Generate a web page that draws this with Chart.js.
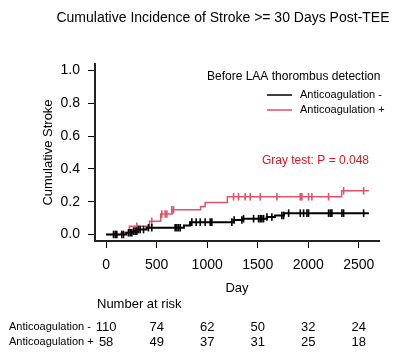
<!DOCTYPE html>
<html>
<head>
<meta charset="utf-8">
<script src="https://cdn.jsdelivr.net/npm/chart.js@4/dist/chart.umd.min.js"></script>
<style>
  html, body { margin: 0; padding: 0; background: #fff; }
  #wrap { width: 417px; height: 360px; }
</style>
</head>
<body>
<div id="wrap"><canvas id="cif" width="417" height="360"></canvas></div>
<script>
/* cumulative incidence of stroke, two groups, with censor marks and risk table */

const FONT = '"Liberation Sans", Arial, sans-serif';
const RED = '#DF536B';

// step curves: day of each jump and value after it
const negDays = [0, 200, 270, 320, 400, 770, 830, 1260, 1345, 1590, 1670, 1760, 2600];
const negRisk = [0, 0.01, 0.02, 0.03, 0.041, 0.055, 0.075, 0.088, 0.096, 0.106, 0.116, 0.13, 0.13];
const posDays = [0, 150, 230, 430, 540, 650, 935, 980, 1200, 2330, 2600];
const posRisk = [0, 0.012, 0.05, 0.08, 0.125, 0.15, 0.17, 0.195, 0.23, 0.266, 0.266];

// censored observations (days)
const negCensor = [73, 90, 106, 155, 172, 221, 238, 254, 271, 287, 304, 320, 337, 370, 419, 452,
  683, 700, 716, 733, 848, 891, 931, 980, 1030, 1046, 1244, 1267, 1343, 1360, 1459, 1508, 1525,
  1541, 1558, 1591, 1640, 1739, 1756, 1806, 1921, 1954, 1987, 2003, 2201, 2218, 2234, 2333, 2350, 2548];
const posCensor = [304, 452, 551, 584, 601, 650, 667, 1261, 1310, 1376, 1426, 1525, 1690, 1921,
  1937, 2003, 2036, 2201, 2350, 2548];

const xTicks = [0, 500, 1000, 1500, 2000, 2500];
const yTicks = [0, 0.2, 0.4, 0.6, 0.8, 1.0];
const groups = ['Anticoagulation -', 'Anticoagulation +'];
const riskNeg = [110, 74, 62, 50, 32, 24];
const riskPos = [58, 49, 37, 31, 25, 18];

function pts(days, vals) {
  return days.map((d, i) => ({ x: d, y: vals[i] }));
}

// value of a step curve at day t
function stepAt(days, vals, t) {
  let v = vals[0];
  days.forEach((d, i) => { if (d <= t) v = vals[i]; });
  return v;
}

function censorPts(list, days, vals) {
  return list.map((t) => ({ x: t, y: stepAt(days, vals, t) }));
}

const textPlugin = {
  id: 'texts',
  afterDraw(chart) {
    const ctx = chart.ctx;
    const xs = chart.scales.x;
    const area = chart.chartArea;
    ctx.save();
    ctx.fillStyle = '#000';
    ctx.textBaseline = 'middle';

    ctx.font = '14px ' + FONT;
    ctx.textAlign = 'center';
    ctx.fillText('Cumulative Incidence of Stroke >= 30 Days Post-TEE', 223, 18);

    // axis titles
    ctx.font = '13px ' + FONT;
    ctx.fillText('Day', (area.left + area.right) / 2, 288);
    ctx.save();
    ctx.translate(48, (area.top + area.bottom) / 2);
    ctx.rotate(-Math.PI / 2);
    ctx.fillText('Cumulative Stroke', 0, 0);
    ctx.restore();

    // legend
    ctx.font = '12px ' + FONT;
    ctx.textAlign = 'left';
    ctx.fillText('Before LAA thorombus detection', 207, 77);
    ctx.font = '11px ' + FONT;
    [['#000', 95], [RED, 110]].forEach(([c, y], i) => {
      ctx.strokeStyle = c;
      ctx.lineWidth = 1.5;
      ctx.beginPath(); ctx.moveTo(267, y); ctx.lineTo(292, y); ctx.stroke();
      ctx.fillText(groups[i], 300, y);
    });

    ctx.font = '12px ' + FONT;
    ctx.textAlign = 'right';
    ctx.fillStyle = '#E8101C';
    ctx.fillText('Gray test: P = 0.048', 369, 161);

    // number at risk
    ctx.fillStyle = '#000';
    ctx.textAlign = 'left';
    ctx.font = '13px ' + FONT;
    ctx.fillText('Number at risk', 97, 304);
    ctx.font = '11px ' + FONT;
    ctx.fillText(groups[0], 9, 327);
    ctx.fillText(groups[1], 9, 342);
    ctx.font = '13px ' + FONT;
    ctx.textAlign = 'center';
    xTicks.forEach((t, i) => {
      const x = xs.getPixelForValue(t);
      ctx.fillText(String(riskNeg[i]), x, 327);
      ctx.fillText(String(riskPos[i]), x, 342);
    });
    ctx.restore();
  },
};

const censorStyle = (color) => ({
  type: 'scatter',
  showLine: false,
  pointStyle: 'line',
  rotation: 90,
  pointRadius: 3.8,
  pointBorderColor: color,
  pointBorderWidth: 1.6,
  pointBackgroundColor: color,
});

new Chart(document.getElementById('cif'), {
  type: 'scatter',
  data: {
    datasets: [
      { label: groups[0], data: pts(negDays, negRisk), showLine: true, stepped: true,
        borderColor: '#000', borderWidth: 2, pointRadius: 0 },
      { ...censorStyle('#000'), data: censorPts(negCensor, negDays, negRisk) },
      { label: groups[1], data: pts(posDays, posRisk), showLine: true, stepped: true,
        borderColor: RED, borderWidth: 1.5, pointRadius: 0 },
      { ...censorStyle(RED), data: censorPts(posCensor, posDays, posRisk) },
    ],
  },
  options: {
    responsive: false,
    animation: false,
    layout: { padding: { top: 64, right: 38, bottom: 89, left: 0 } },
    plugins: { legend: { display: false }, tooltip: { enabled: false }, title: { display: false } },
    scales: {
      x: {
        type: 'linear', min: -110, max: 2700,
        afterBuildTicks: (s) => { s.ticks = xTicks.map((v) => ({ value: v })); },
        afterFit: (s) => { s.height = 30; },
        grid: { drawOnChartArea: false, drawTicks: true, tickLength: 7, color: '#000' },
        border: { display: true, color: '#222', width: 2 },
        ticks: { color: '#000', padding: 9, maxRotation: 0, font: { family: FONT, size: 14 },
          callback: (v) => String(v) },
      },
      y: {
        type: 'linear', min: -0.04, max: 1.04,
        afterBuildTicks: (s) => { s.ticks = yTicks.map((v) => ({ value: v })); },
        afterFit: (s) => { s.width = 95; },
        grid: { drawOnChartArea: false, drawTicks: true, tickLength: 7, color: '#000' },
        border: { display: true, color: '#222', width: 2 },
        ticks: { color: '#000', padding: 8, font: { family: FONT, size: 14 },
          callback: (v) => Number(v).toFixed(1) },
      },
    },
  },
  plugins: [textPlugin],
});
</script>
</body>
</html>
